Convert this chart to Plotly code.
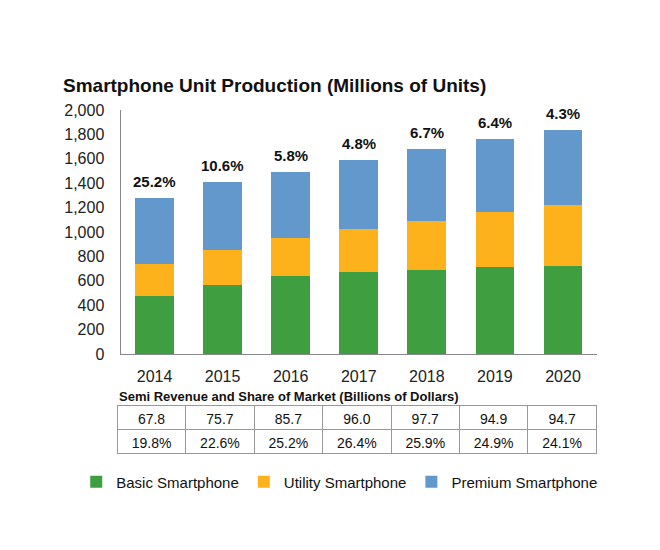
import plotly.graph_objects as go

years = ["2014", "2015", "2016", "2017", "2018", "2019", "2020"]
basic = [477, 568, 642, 672, 692, 716, 719]
utility = [259, 286, 311, 353, 399, 450, 499]
premium = [540, 560, 537, 567, 586, 597, 622]
growth = ["25.2%", "10.6%", "5.8%", "4.8%", "6.7%", "6.4%", "4.3%"]
revenue = ["67.8", "75.7", "85.7", "96.0", "97.7", "94.9", "94.7"]
share = ["19.8%", "22.6%", "25.2%", "26.4%", "25.9%", "24.9%", "24.1%"]

FONT = "Arial, Liberation Sans, sans-serif"
GREEN = "#3F9E3F"
ORANGE = "#FDB11A"
BLUE = "#6298CB"

fig = go.Figure()
fig.add_trace(go.Bar(x=years, y=basic, name="Basic Smartphone", marker_color=GREEN, marker_line_width=0))
fig.add_trace(go.Bar(x=years, y=utility, name="Utility Smartphone", marker_color=ORANGE, marker_line_width=0))
fig.add_trace(go.Bar(x=years, y=premium, name="Premium Smartphone", marker_color=BLUE, marker_line_width=0))

totals = [b + u + p for b, u, p in zip(basic, utility, premium)]
for i, (t, g) in enumerate(zip(totals, growth)):
    fig.add_annotation(x=i, y=t, text="<b>%s</b>" % g, showarrow=False, yanchor="bottom",
                       yshift=6, font=dict(family=FONT, size=15, color="#111"))

fig.add_trace(go.Table(
    domain=dict(x=[0.1195, 0.9466], y=[0.0, 0.2237]),
    columnwidth=[1] * 7,
    header=dict(values=revenue, height=24, align="center", fill_color="white",
                line=dict(color="#999", width=1), font=dict(family=FONT, size=14, color="#111")),
    cells=dict(values=[[s] for s in share], height=24, align="center", fill_color="white",
               line=dict(color="#999", width=1), font=dict(family=FONT, size=14, color="#111")),
))

fig.add_annotation(xref="paper", yref="paper", x=0.1195, y=0.2437, xanchor="left", yanchor="middle",
                   text="<b>Semi Revenue and Share of Market (Billions of Dollars)</b>", showarrow=False,
                   font=dict(family=FONT, size=13, color="#111"))

fig.update_layout(
    width=660, height=550,
    margin=dict(l=40, r=40, t=60, b=55),
    paper_bgcolor="white", plot_bgcolor="white",
    barmode="stack", bargap=0.43,
    title=dict(text="<b>Smartphone Unit Production (Millions of Units)</b>", x=55 / 660, xanchor="left",
               y=1 - 77 / 550, yanchor="middle", yref="container", pad=dict(l=0, r=0, t=0, b=0),
               font=dict(family=FONT, size=19, color="#111")),
    xaxis=dict(type="category", domain=[0.125, 0.9466], range=[-0.5, 6.5], showgrid=False, showline=True,
               linecolor="#888", ticks="", ticklabelstandoff=8,
               tickfont=dict(family=FONT, size=16, color="#222")),
    yaxis=dict(domain=[0.3425, 0.9034], range=[0, 2000], dtick=200, tickformat=",", showgrid=False,
               showline=True, linecolor="#888", ticks="", ticklabelstandoff=12, zeroline=False,
               tickfont=dict(family=FONT, size=16, color="#222")),
    legend=dict(orientation="h", x=0.503, xanchor="center", y=0.048, yanchor="middle",
                font=dict(family=FONT, size=15, color="#111"), traceorder="normal"),
    showlegend=True,
)

fig.write_html("out.html")
